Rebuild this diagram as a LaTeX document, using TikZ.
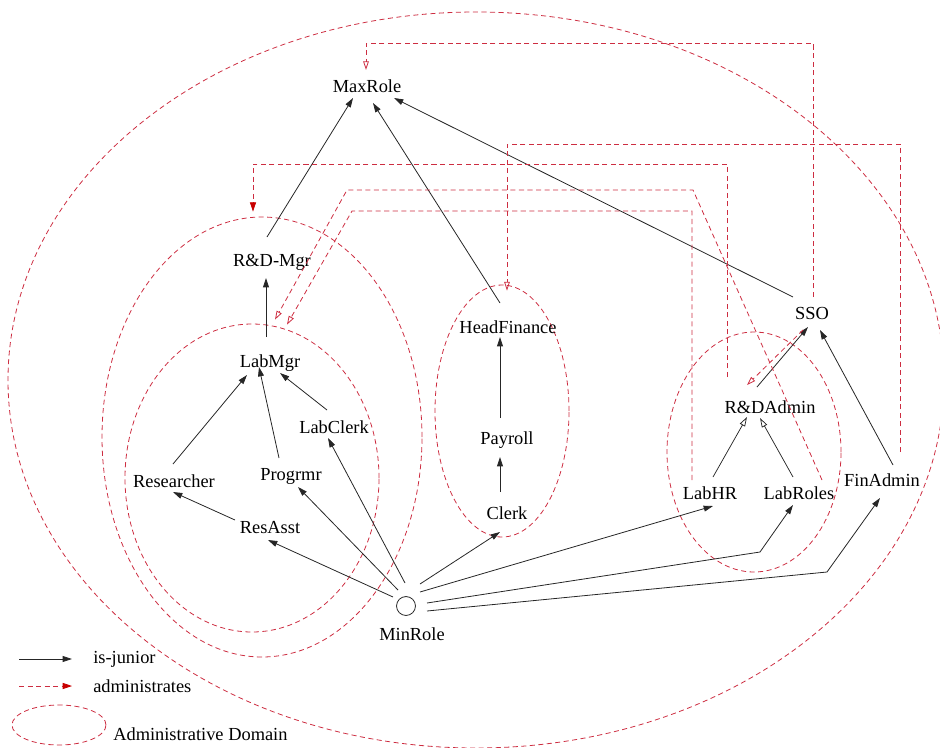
\documentclass[tikz,border=0pt]{standalone}
\usepackage{fontspec}
\setmainfont{Liberation Serif}
\usetikzlibrary{arrows.meta,shapes.geometric,calc}
\definecolor{domred}{RGB}{205,45,65}
\definecolor{tipred}{RGB}{200,0,0}
\newcommand\rolefont{\fontsize{13.8pt}{16pt}\selectfont}

\begin{document}
\begin{tikzpicture}[x=0.75pt,y=-0.75pt,
  role/.style={anchor=base, inner sep=0pt, font=\rolefont},
  junior/.style={draw=black!85, line width=0.6pt, -{Triangle[length=7pt,width=4.4pt]}},
  junioropen/.style={draw=black!85, line width=0.55pt, -{Triangle[open,length=7pt,width=4.4pt]}},
  admin/.style={draw=domred, line width=0.6pt, dash pattern=on 3.8pt off 2.6pt,
    -{Triangle[open,length=6.5pt,width=4.2pt]}},
  adminfill/.style={draw=domred, line width=0.6pt, dash pattern=on 3.8pt off 2.6pt,
    -{Triangle[length=7pt,width=4.6pt,color=tipred]}},
  admdomain/.style={ellipse, draw=domred, line width=0.6pt, dash pattern=on 3.8pt off 2.6pt, inner sep=0pt},
]
\useasboundingbox (0,0) rectangle (940,747);
\clip (0,0) rectangle (940,747);

% administrative domains
\node[admdomain, minimum width=702pt, minimum height=552pt] (outerdom) at (476,380) {};
\node[admdomain, minimum width=240pt, minimum height=330pt] (rddom) at (262,437) {};
\node[admdomain, minimum width=190.5pt, minimum height=231pt] (labdom) at (252,478) {};
\node[admdomain, minimum width=100.5pt, minimum height=189pt] (findom) at (502,411) {};
\node[admdomain, minimum width=130.5pt, minimum height=180pt] (admdom) at (754,452) {};

% roles
\node[role] (maxrole)    at (367,92)  {MaxRole};
\node[role] (rdmgr)      at (272,266) {R\&D-Mgr};
\node[role] (labmgr)     at (270,367) {LabMgr};
\node[role] (labclerk)   at (334,433) {LabClerk};
\node[role] (researcher) at (174,487) {Researcher};
\node[role] (progrmr)    at (291,480) {Progrmr};
\node[role] (resasst)    at (270,533) {ResAsst};
\node[circle, draw=black!85, line width=0.6pt, minimum size=14.2pt, inner sep=0pt] (minrole) at (406,606) {};
\node[role] (minlabel)   at (412,640) {MinRole};
\node[role] (headfin)    at (508,333) {HeadFinance};
\node[role] (payroll)    at (507,444) {Payroll};
\node[role] (clerk)      at (507,519) {Clerk};
\node[role] (sso)        at (812,319) {SSO};
\node[role] (rdadmin)    at (770,413) {R\&DAdmin};
\node[role] (labhr)      at (710,499) {LabHR};
\node[role] (labroles)   at (799,499) {LabRoles};
\node[role] (finadmin)   at (882,486) {FinAdmin};

% is-junior relations
\draw[junior] ([shift={(-35,-13)}]resasst.base) -- ([shift={(-1,5)}]researcher.base);
\draw[junior] ([shift={(-1,-23)}]researcher.base) -- ([shift={(-23,8)}]labmgr.base);
\draw[junior] ([shift={(-12,-22)}]progrmr.base) -- ([shift={(-11,0)}]labmgr.base);
\draw[junior] ([shift={(-7,-23)}]labclerk.base) -- ([shift={(10,6)}]labmgr.base);
\draw[junior] ([shift={(-4,-30)}]labmgr.base) -- ([shift={(-6,12)}]rdmgr.base);
\draw[junior] ([shift={(-5,-29)}]rdmgr.base) -- ([shift={(-14,6)}]maxrole.base);
\draw[junior] ([shift={(-8,-30)}]headfin.base) -- ([shift={(6,11)}]maxrole.base);
\draw[junior] ([shift={(-19,-22)}]sso.base) -- ([shift={(27,6)}]maxrole.base);
\draw[junior] ([shift={(-7,-26)}]payroll.base) -- ([shift={(-8,4)}]headfin.base);
\draw[junior] ([shift={(-7,-27)}]clerk.base) -- ([shift={(-7,13)}]payroll.base);
\draw[junior] ([shift={(-13,-26)}]rdadmin.base) -- ([shift={(-4,8)}]sso.base);
\draw[junior] ([shift={(11,-21)}]finadmin.base) -- ([shift={(8,11)}]sso.base);
\draw[junioropen] ([shift={(3,-22)}]labhr.base) -- ([shift={(-23,4)}]rdadmin.base);
\draw[junioropen] ([shift={(-6,-22)}]labroles.base) -- ([shift={(-10,5)}]rdadmin.base);

% MinRole is junior to the entry roles
\draw[junior] ([shift={(-13,-9)}]minrole.center) -- ([shift={(-2,7)}]resasst.base);
\draw[junior] ([shift={(-8,-16)}]minrole.center) -- ([shift={(7,7)}]progrmr.base);
\draw[junior] ([shift={(-1,-23)}]minrole.center) -- ([shift={(-6,5)}]labclerk.base);
\draw[junior] ([shift={(14,-22)}]minrole.center) -- ([shift={(-7,13)}]clerk.base);
\draw[junior] ([shift={(14,-14)}]minrole.center) -- ([shift={(3,7)}]labhr.base);
\draw[junior] ([shift={(21,-3)}]minrole.center) -- ++(333,-51) -- ([shift={(-6,6)}]labroles.base);
\draw[junior] ([shift={(21,5)}]minrole.center) -- ++(400,-39) -- ([shift={(-2,12)}]finadmin.base);

% administrates relations
\draw[admin] ([shift={(1,-22)}]sso.base) -- ++(0,-254) -| ([shift={(-1,-22)}]maxrole.base);
\draw[adminfill] ([shift={(-43,-36)}]rdadmin.base) -- ++(0,-213) -| ([shift={(-9,-5)}]rddom.north);
\draw[admin] ([shift={(18,-34)}]finadmin.base) -- ++(0,-308) -| ([shift={(5,6)}]findom.north);
\draw[admin] ([shift={(-18,-19)}]labhr.base) -- ++(0,-269) -- ++(-340,0) -- ([shift={(35,1)}]labdom.north);
\draw[admin] ([shift={(23,-19)}]labroles.base) -- ++(-129,-290) -- ++(-346,0) -- ([shift={(23,-4)}]labdom.north);
\draw[admin] ([shift={(-9,11)}]sso.base) -- ([shift={(-23,-28)}]rdadmin.base);

% legend
\coordinate (lj1) at (19,659);
\coordinate (lj2) at (72,659);
\coordinate (la1) at (19,686);
\coordinate (la2) at (72,686);
\draw[junior] (lj1) -- (lj2);
\draw[adminfill] (la1) -- (la2);
\node[role, anchor=base west] (ljtext) at (93,663) {is-junior};
\node[role, anchor=base west] (latext) at (93,692) {administrates};
\node[admdomain, minimum width=70.5pt, minimum height=30pt] (legdom) at (59,725) {};
\node[role, anchor=base west] (ldtext) at (113,740) {Administrative Domain};
\end{tikzpicture}
\end{document}
